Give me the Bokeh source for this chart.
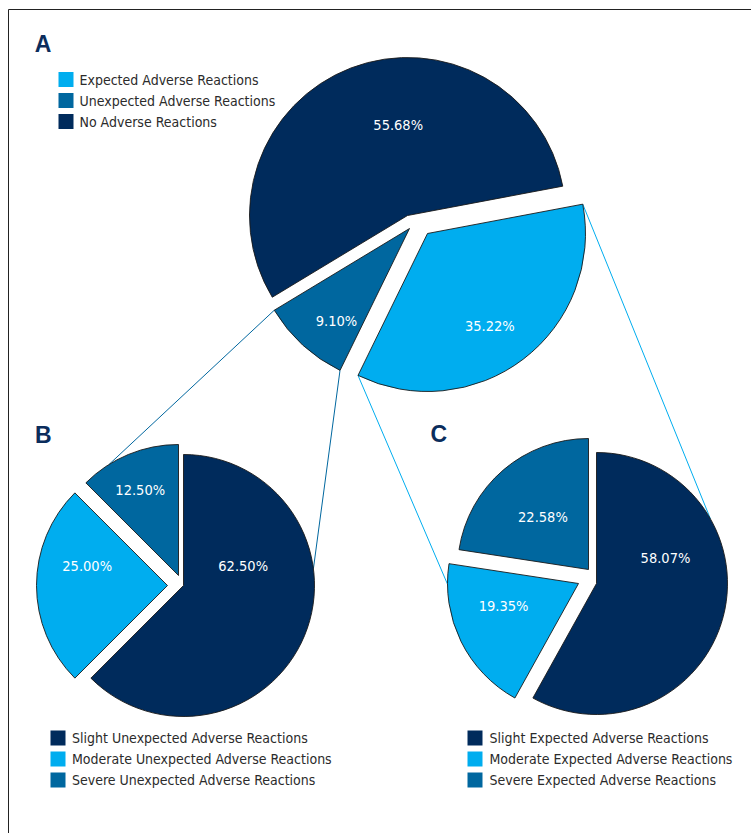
import numpy as np
from bokeh.plotting import figure
from bokeh.models import Range1d
from bokeh.core.properties import value
from bokeh.embed import file_html
from bokeh.resources import INLINE

W, H = 751, 833

# ---------------- data ----------------
a_categories = ["Expected Adverse Reactions", "Unexpected Adverse Reactions", "No Adverse Reactions"]
a_values = [35.22, 9.10, 55.68]
b_categories = ["Slight Unexpected Adverse Reactions", "Moderate Unexpected Adverse Reactions",
                "Severe Unexpected Adverse Reactions"]
b_values = [62.50, 25.00, 12.50]
c_categories = ["Slight Expected Adverse Reactions", "Moderate Expected Adverse Reactions",
                "Severe Expected Adverse Reactions"]
c_values = [58.07, 19.35, 22.58]
panel_names = ["A", "B", "C"]

# ---------------- styles / layout ----------------
NAVY, LIGHT, MID = "#002b5c", "#00adef", "#00679f"
TEXT = "#2b2b2b"
FONT = "DejaVu Sans Condensed"
LEG_SIZE = "14px"
LBL_SIZE = "14.5px"

PIES = {
    "A": dict(values=a_values, cats=a_categories, colors=[LIGHT, MID, NAVY],
              cx=412, cy=224, r=158, start=10.7,
              offsets=[(15, 9), (-3, 4), (-5, -9)],
              labels=[(303.9, 111.7), (231.8, 118), (95.9, 90.5)],
              letter=(42.5, 43), legend=(58, 79, 79)),
    "B": dict(values=b_values, cats=b_categories, colors=[NAVY, LIGHT, MID],
              cx=176, cy=582, r=131, start=90,
              offsets=[(7, 3), (-9, 3), (2, -7)],
              labels=[(17.9, 62.7), (166.5, 82.6), (114, 94.1)],
              letter=(42.7, 434), legend=(50, 71.5, 737.5)),
    "C": dict(values=c_values, cats=c_categories, colors=[NAVY, LIGHT, MID],
              cx=590, cy=578, r=131, start=90,
              offsets=[(6, 5), (-12, 5), (-2, -9)],
              labels=[(20.4, 73.6), (197, 78.4), (131.2, 69.2)],
              letter=(438.3, 433.3), legend=(467, 489, 737.5)),
}
ROW = 21
SQ = 15

# connectors: (from pie, slice, "lo"/"hi" edge) -> (to pie, slice, angle on arc)
CONNECTORS = [
    ("A", 1, "lo", "B", 2, 122.0, MID),
    ("A", 1, "hi", "B", 0, 7.4, MID),
    ("A", 0, "lo", "C", 1, 180.3, LIGHT),
    ("A", 0, "hi", "C", 0, 29.6, LIGHT),
]


def Y(y):
    return H - y


def geometry(spec):
    vals = np.array(spec["values"], dtype=float)
    spans = vals / vals.sum() * 360.0
    hi = spec["start"] - np.concatenate([[0], np.cumsum(spans)[:-1]])
    lo = hi - spans
    ax = np.array([spec["cx"] + dx for dx, dy in spec["offsets"]], dtype=float)
    ay = np.array([Y(spec["cy"] + dy) for dx, dy in spec["offsets"]], dtype=float)
    return ax, ay, lo, hi


GEO = {k: geometry(s) for k, s in PIES.items()}


def arc_point(key, i, ang):
    ax, ay, lo, hi = GEO[key]
    r = PIES[key]["r"]
    t = np.deg2rad(ang)
    return ax[i] + r * np.cos(t), ay[i] + r * np.sin(t)


p = figure(width=W, height=H, x_range=Range1d(0, W), y_range=Range1d(0, H),
           output_backend="svg", toolbar_location=None, min_border=0)
p.axis.visible = False
p.grid.visible = False
p.outline_line_color = None
p.background_fill_color = "white"

# frame
p.line([8, 8, W], [0, Y(9), Y(9)], line_color="#222222", line_width=1)

# connectors
for fk, fi, edge, tk, ti, tang, col in CONNECTORS:
    ax, ay, lo, hi = GEO[fk]
    a0 = lo[fi] if edge == "lo" else hi[fi]
    x0, y0 = arc_point(fk, fi, a0)
    x1, y1 = arc_point(tk, ti, tang)
    p.line([x0, x1], [y0, y1], line_color=col, line_width=1)

for key, spec in PIES.items():
    ax, ay, lo, hi = GEO[key]
    p.wedge(x=ax, y=ay, radius=spec["r"], start_angle=lo, end_angle=hi,
            start_angle_units="deg", end_angle_units="deg", direction="anticlock",
            fill_color=spec["colors"], line_color="#1a1a1a", line_width=0.9)
    # slice labels
    lx = [ax[i] + d * np.cos(np.deg2rad(a)) for i, (a, d) in enumerate(spec["labels"])]
    ly = [ay[i] + d * np.sin(np.deg2rad(a)) for i, (a, d) in enumerate(spec["labels"])]
    p.text(x=lx, y=ly, text=[f"{v:.2f}%" for v in spec["values"]],
           text_font=value(FONT), text_font_size=value(LBL_SIZE), text_color="white",
           text_align="center", text_baseline="middle")
    # panel letter
    p.text(x=[spec["letter"][0]], y=[Y(spec["letter"][1])], text=[key],
           text_font=value("Liberation Sans"), text_font_style="bold",
           text_font_size=value("23px"), text_color="#0b2d5c",
           text_align="center", text_baseline="middle")
    # legend
    sqx, tx, y0 = spec["legend"]
    ys = [Y(y0 + ROW * i) for i in range(len(spec["cats"]))]
    p.rect(x=[sqx + SQ / 2] * len(ys), y=ys, width=SQ, height=SQ,
           fill_color=spec["colors"], line_color=None)
    p.text(x=[tx] * len(ys), y=ys, text=spec["cats"],
           text_font=value(FONT), text_font_size=value(LEG_SIZE), text_color=TEXT,
           text_align="left", text_baseline="middle")

open("out.html", "w").write(file_html(p, INLINE))
